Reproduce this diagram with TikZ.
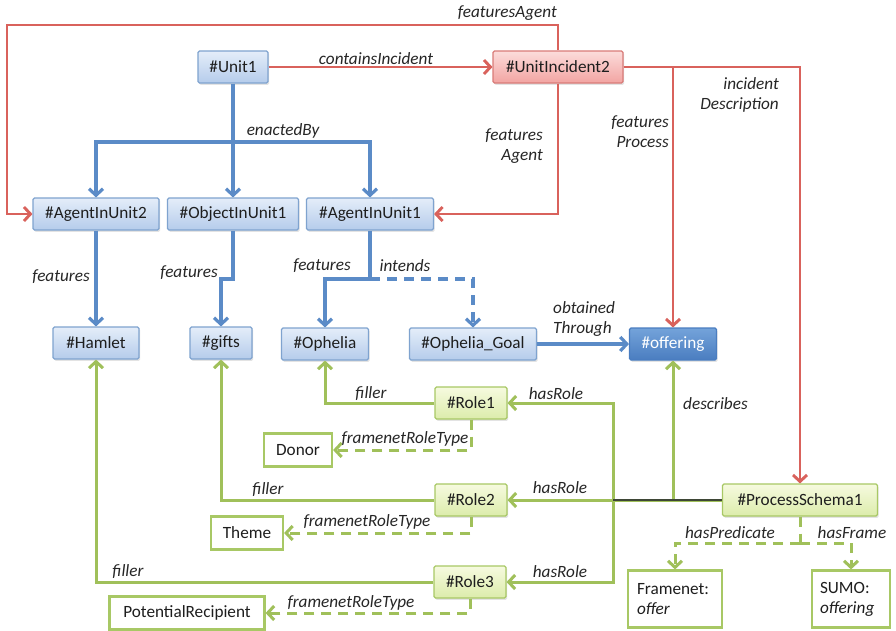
\documentclass[tikz,border=0pt]{standalone}
\usepackage{fontspec}
\setmainfont{Carlito}
\usetikzlibrary{arrows.meta,shadows}
\definecolor{bluebd}{HTML}{7FA3CF}
\definecolor{bluetop}{HTML}{E4EDF9}
\definecolor{bluebot}{HTML}{B5CCEB}
\definecolor{blueln}{HTML}{5B8BC7}
\definecolor{redln}{HTML}{D9625C}
\definecolor{redbd}{HTML}{D97B78}
\definecolor{redtop}{HTML}{FCDCDB}
\definecolor{redbot}{HTML}{F2A4A2}
\definecolor{greenln}{HTML}{A0C05A}
\definecolor{greenbd}{HTML}{A8C865}
\definecolor{greentop}{HTML}{F6FADF}
\definecolor{greenbot}{HTML}{DCECAB}
\definecolor{offtop}{HTML}{74A3DA}
\definecolor{offbot}{HTML}{4A7DC0}
\definecolor{txt}{HTML}{1E1E1E}
\definecolor{lbltxt}{HTML}{262626}
\definecolor{darkseg}{HTML}{3E4636}
\begin{document}
\begin{tikzpicture}[x=1pt,y=-1pt,
  font=\fontsize{17.2}{20}\selectfont, text=txt,
  box/.style={rounded corners=1.5pt, line width=1.1pt, minimum height=32pt, inner sep=0pt,
    drop shadow={shadow xshift=1.2pt,shadow yshift=-1.8pt,opacity=0.22}},
  bbox/.style={box, draw=bluebd, top color=bluetop, bottom color=bluebot},
  rbox/.style={box, draw=redbd, top color=redtop, bottom color=redbot},
  obox/.style={box, draw=offbot, top color=offtop, bottom color=offbot, text=white},
  gbox/.style={box, draw=greenbd, top color=greentop, bottom color=greenbot},
  wbox/.style={draw=greenbd, fill=white, line width=2.2pt, minimum height=33pt, inner sep=0pt},
  lbl/.style={font=\fontsize{17.2}{20}\selectfont\itshape, text=lbltxt, inner sep=0pt},
  >={Straight Barb[length=6.5pt,width=14pt]},
  rline/.style={draw=redln, line width=2.9pt},
  bline/.style={draw=blueln, line width=3.2pt},
  gline/.style={draw=greenln, line width=3pt},
  dsh/.style={dash pattern=on 10pt off 7pt},
]
\useasboundingbox (0,0) rectangle (896,630);
\fill[white] (0,0) rectangle (896,630);

% nodes
\node[bbox, minimum width=70pt]  (unit1)  at (233,67)  {\#Unit1};
\node[rbox, minimum width=130pt] (inc2)   at (558,67)  {\#UnitIncident2};
\node[bbox, minimum width=126pt] (ag2)    at (96,214)  {\#AgentInUnit2};
\node[bbox, minimum width=131pt] (obj1)   at (233,214) {\#ObjectInUnit1};
\node[bbox, minimum width=127pt] (ag1)    at (370,214) {\#AgentInUnit1};
\node[bbox, minimum width=86pt]  (hamlet) at (96,343)  {\#Hamlet};
\node[bbox, minimum width=62pt]  (gifts)  at (221,343) {\#gifts};
\node[bbox, minimum width=87pt]  (ophelia) at (325,344) {\#Ophelia};
\node[bbox, minimum width=127pt] (goal)   at (473,344) {\#Ophelia\_Goal};
\node[obox, minimum width=87pt]  (offering) at (673,344) {\#offering};
\node[gbox, minimum width=72pt]  (role1)  at (471,403) {\#Role1};
\node[gbox, minimum width=72pt]  (role2)  at (471,500) {\#Role2};
\node[gbox, minimum width=72pt]  (role3)  at (470,582) {\#Role3};
\node[gbox, minimum width=155pt] (ps1)    at (800,500) {\#ProcessSchema1};
\node[wbox, minimum width=68pt]  (donor)  at (298,450) {Donor};
\node[wbox, minimum width=72pt]  (theme)  at (247,533) {Theme};
\node[wbox, minimum width=155pt] (potrec) at (187,613) {PotentialRecipient};
\node[wbox, minimum width=94pt, minimum height=57pt, text width=76pt, align=left] (framenet) at (675,599) {Framenet:\\\textit{offer}};
\node[wbox, minimum width=78pt, minimum height=57pt, text width=62pt, align=left] (sumo) at (851,599) {SUMO:\\\textit{offering}};

% coordinates
\coordinate (fa) at (7,25);
\coordinate (eb) at (233,142);
\coordinate (bg) at (233,279);
\coordinate (bo) at (370,279);
\coordinate (hr) at (613,500);
\coordinate (ds) at (673,500);
\coordinate (hp) at (800,543);

% red connectors
\draw[rline,->] (unit1) -- (inc2);
\draw[rline,->] (inc2.north) |- (fa) |- (ag2.west);
\draw[rline,->] (inc2.south) |- (ag1.east);
\draw[rline,->] (inc2.east) -| (offering.north);
\draw[rline,->] (inc2.east) -| (ps1.north);

% blue connectors
\draw[bline] (unit1.south) -- (eb);
\draw[bline,->] (eb) -| (ag2.north);
\draw[bline,->] (eb) -- (obj1.north);
\draw[bline,->] (eb) -| (ag1.north);
\draw[bline,->] (ag2.south) -- (hamlet.north);
\draw[bline,->] (obj1.south) -- (bg) -| (gifts.north);
\draw[bline,->] (ag1.south) -- (bo) -| (ophelia.north);
\draw[bline,dsh,->] (bo) -| (goal.north);
\draw[bline,->] (goal.east) -- (offering.west);

% green connectors
\draw[gline,->] (role1.west) -| (ophelia.south);
\draw[gline,->] (role2.west) -| (gifts.south);
\draw[gline,->] (role3.west) -| (hamlet.south);
\draw[gline,dsh,->] (role1.south) |- (donor.east);
\draw[gline,dsh,->] (role2.south) |- (theme.east);
\draw[gline,dsh,->] (role3.south) |- (potrec.east);
\draw[gline] (ps1.west) -- (hr);
\draw[gline,->] (hr) |- (role1.east);
\draw[gline,->] (hr) -- (role2.east);
\draw[gline,->] (hr) |- (role3.east);
\draw[gline,->] (ds) -- (offering.south);
\draw[draw=darkseg, line width=1.6pt] (hr) -- (ps1.west);
\draw[gline,dsh] (ps1.south) -- (hp);
\draw[gline,dsh,->] (hp) -| (framenet.north);
\draw[gline,dsh,->] (hp) -| (sumo.north);

% labels
\node[lbl] (lci) at (376,59) {containsIncident};
\node[lbl, anchor=east] (lfa) at (557,13) {featuresAgent};
\node[lbl, anchor=east, align=right] (lfa2) at (543,146) {features\\Agent};
\node[lbl, anchor=east, align=right] (lfp) at (669,132) {features\\Process};
\node[lbl, anchor=east, align=right] (lid) at (779,95) {incident\\Description};
\node[lbl] (leb) at (283,131) {enactedBy};
\node[lbl] (lf1) at (61,277) {features};
\node[lbl] (lf2) at (189,273) {features};
\node[lbl] (lf3) at (322,266) {features};
\node[lbl] (lin) at (405,266) {intends};
\node[lbl, anchor=west, align=left] (lot) at (553,319) {obtained\\Through};
\node[lbl, anchor=west] (lde) at (683,404) {describes};
\node[lbl] (lfi1) at (371,394) {filler};
\node[lbl] (lhr1) at (556,394) {hasRole};
\node[lbl] (lrt1) at (405,439) {framenetRoleType};
\node[lbl] (lfi2) at (268,490) {filler};
\node[lbl] (lhr2) at (560,488) {hasRole};
\node[lbl] (lrt2) at (367,522) {framenetRoleType};
\node[lbl] (lfi3) at (128,572) {filler};
\node[lbl] (lhr3) at (560,572) {hasRole};
\node[lbl] (lrt3) at (351,603) {framenetRoleType};
\node[lbl] (lhp) at (730,533) {hasPredicate};
\node[lbl] (lhf) at (852,533) {hasFrame};
\end{tikzpicture}
\end{document}
